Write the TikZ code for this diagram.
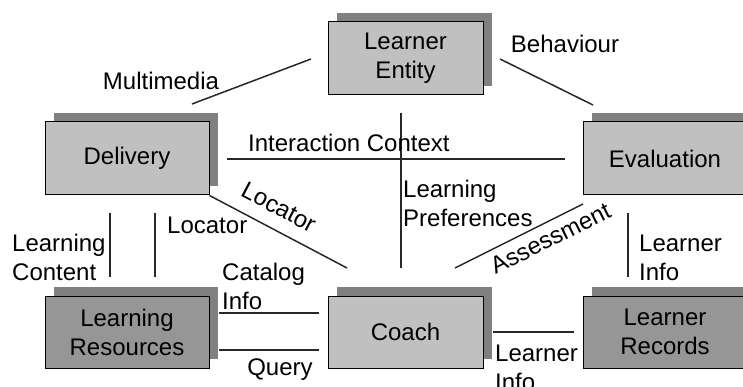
\documentclass[tikz,border=0pt]{standalone}
\usepackage{fontspec}
\setmainfont{Liberation Sans}
\usetikzlibrary{shadows}
\definecolor{boxlight}{RGB}{192,192,192}
\definecolor{boxdark}{RGB}{150,150,150}
\definecolor{shadowc}{RGB}{128,128,128}
\definecolor{linec}{RGB}{40,40,40}
\begin{document}
\begin{tikzpicture}[x=1pt,y=-1pt,
  font=\fontsize{24}{29}\selectfont,
  box/.style={draw=black, line width=1pt, minimum height=73pt, align=center, inner sep=0pt,
    drop shadow={shadow xshift=9pt, shadow yshift=9pt, opacity=1, fill=shadowc}},
  conn/.style={draw=linec, line width=1.5pt},
  lbl/.style={inner sep=0pt, text=black},
  lbll/.style={inner sep=0pt, align=left, anchor=west}]
\useasboundingbox (0,0) rectangle (743,387);

% boxes
\node[box, fill=boxlight, minimum width=155pt] (le) at (405.5,58.5) {Learner\\Entity};
\node[box, fill=boxlight, minimum width=164pt] (del) at (127,158.5) {Delivery};
\node[box, fill=boxlight, minimum width=164pt] (ev) at (665,158.5) {Evaluation};
\node[box, fill=boxdark, minimum width=164pt, minimum height=72pt] (lr) at (127,332) {Learning\\Resources};
\node[box, fill=boxlight, minimum width=155pt, minimum height=72pt] (co) at (405.5,332) {Coach};
\node[box, fill=boxdark, minimum width=164pt, minimum height=72pt] (rec) at (665,332) {Learner\\Records};

% connector end points
\coordinate (m1) at (192,104);  \coordinate (m2) at (311,59);
\coordinate (b1) at (500,59);   \coordinate (b2) at (593,105);
\coordinate (i1) at (227,159);  \coordinate (i2) at (565,159);
\coordinate (p1) at (401,113);  \coordinate (p2) at (401,268);
\coordinate (l2) at (347,268);
\coordinate (lv1) at (155,213); \coordinate (lv2) at (155,277);
\coordinate (lc1) at (110,213); \coordinate (lc2) at (110,277);
\coordinate (c1) at (219,313);  \coordinate (c2) at (319,313);
\coordinate (q1) at (219,350);  \coordinate (q2) at (319,350);
\coordinate (a1) at (455,268);  \coordinate (a2) at (583,204);
\coordinate (r1) at (628,213);  \coordinate (r2) at (628,277);
\coordinate (bi1) at (493,332); \coordinate (bi2) at (574,332);

% connectors
\draw[conn] (m1) -- (m2);
\draw[conn] (b1) -- (b2);
\draw[conn] (i1) -- (i2);
\draw[conn] (p1) -- (p2);
\draw[conn] (del.south east) -- (l2) node[pos=0.43, sloped, above=13pt, lbl] {Locator};
\draw[conn] (lv1) -- (lv2);
\draw[conn] (lc1) -- (lc2);
\draw[conn] (c1) -- (c2);
\draw[conn] (q1) -- (q2);
\draw[conn] (a1) -- (a2) node[pos=0.69, sloped, below=7pt, lbl] {Assessment};
\draw[conn] (r1) -- (r2);
\draw[conn] (bi1) -- (bi2);

% labels
\node[lbl] (tmm) at (161,81) {Multimedia};
\node[lbl] (tbh) at (565,44) {Behaviour};
\node[lbll] (tic) at (248,143) {Interaction Context};
\node[lbll] (tlp) at (403,203) {Learning\\Preferences};
\node[lbll] (tloc) at (167,225) {Locator};
\node[lbll] (tlc) at (12,257.5) {Learning\\Content};
\node[lbll] (tci) at (222,286) {Catalog\\Info};
\node[lbl] (tq) at (280,370) {Query};
\node[lbll] (tri) at (639,258) {Learner\\Info};
\node[lbll] (tbi) at (495,367.5) {Learner\\Info};
\end{tikzpicture}
\end{document}
